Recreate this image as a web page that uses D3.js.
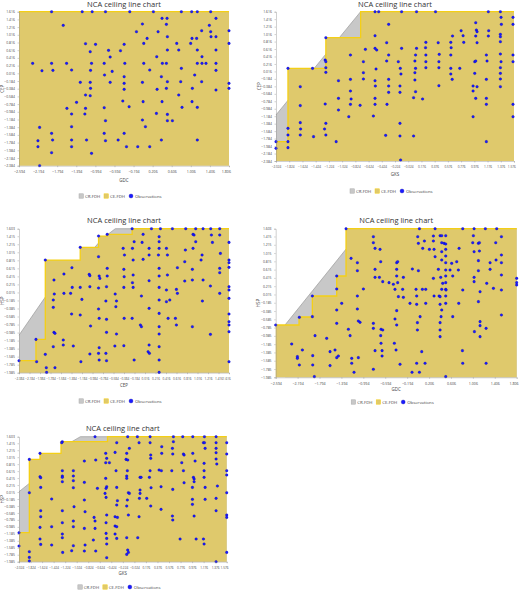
<!DOCTYPE html>
<html><head><meta charset="utf-8">
<script src="https://cdn.jsdelivr.net/npm/d3@7"></script>
<style>body{margin:0;background:#fff}svg{display:block}</style>
</head><body>
<svg id="chart" width="520" height="590"></svg>
<script>
// ---- data ----
const gdcTicks = [-2.594,-2.194,-1.794,-1.394,-0.994,-0.594,-0.194,0.206,0.606,1.006,1.406,1.806];
const gksTicks = [-2.024,-1.824,-1.624,-1.424,-1.224,-1.024,-0.824,-0.624,-0.424,-0.224,-0.024,0.176,0.376,0.576,0.776,0.976,1.176,1.376,1.576];
const cepTicks = [-2.384,-2.184,-1.984,-1.784,-1.584,-1.384,-1.184,-0.984,-0.784,-0.584,-0.384,-0.184,0.016,0.216,0.416,0.616,0.816,1.016,1.216,1.416,1.616];
const hspTicks = [1.603,1.415,1.215,1.015,0.815,0.615,0.415,0.215,0.015,-0.185,-0.385,-0.585,-0.785,-0.985,-1.185,-1.385,-1.585,-1.785,-1.985];

const ceFdh1 = [[-2.594,1.616],[1.806,1.616]];
const ceFdh2 = [[-2.024,-1.866],[-1.843,-1.866],[-1.843,0.098],[-1.27,0.098],[-1.27,0.92],[-0.744,0.92],[-0.744,1.616],[1.576,1.616]];
const crFdh2 = [[-2.024,-1.15],[-0.744,1.616],[1.576,1.616]];
const ceFdh3 = [[-2.384,-1.686],[-2.061,-1.686],[-2.061,-1.155],[-1.883,-1.155],[-1.883,0.822],[-1.218,0.822],[-1.218,1.138],[-0.869,1.138],[-0.869,1.42],[-0.704,1.42],[-0.704,1.462],[-0.229,1.462],[-0.229,1.603],[1.616,1.603]];
const crFdh3 = [[-2.384,-1.05],[-1.883,-0.1],[-1.5,0.3],[-0.8,1.35],[-0.55,1.603],[1.616,1.603]];
const ceFdh4 = [[-2.594,-0.722],[-2.168,-0.722],[-2.168,-0.529],[-1.925,-0.529],[-1.925,-0.022],[-1.48,-0.022],[-1.48,0.461],[-1.31,0.461],[-1.31,1.603],[1.806,1.603]];
const crFdh4 = [[-2.424,-0.722],[-1.01,1.603],[1.806,1.603]];
const ceFdh5 = [[-2.024,-1.153],[-1.845,-1.153],[-1.845,0.952],[-1.66,0.952],[-1.66,1.125],[-1.296,1.125],[-1.296,1.459],[-0.49,1.459],[-0.49,1.603],[1.576,1.603]];
const crFdh5 = [[-2.024,0.024],[-1.845,0.263],[-1.5,0.7],[-1.11,1.459],[-0.96,1.603],[1.576,1.603]];

const obs1 = [[-2.308,0.274],[-2.113,0.083],[-1.911,1.616],[-1.911,0.274],[-1.883,0.092],[-1.667,1.261],[-1.597,0.274],[-1.492,0.1],[-1.31,-0.219],[-1.388,-0.739],[-1.59,-0.895],[-1.492,-1.042],[-1.492,-1.371],[-1.492,-1.717],[-1.492,-1.89],[-1.911,-1.544],[-1.89,-1.717],[-1.911,-2.046],[-2.162,-1.389],[-2.197,-1.735],[-2.197,-1.89],[-2.162,-2.384],[-1.2,0.785],[-1.102,0.577],[-0.99,0.768],[-1.074,0.274],[-1.095,0.092],[-1.102,-0.219],[-1.095,-0.375],[-1.2,-0.548],[-1.102,-0.566],[-1.2,-0.895],[-1.214,-1.042],[-1.179,-1.717],[-1.074,-2.063],[-1.27,1.616],[-1.061,1.616],[-0.782,1.616],[-0.718,0.612],[-0.809,0.274],[-0.684,0.439],[-0.802,-0.029],[-0.684,-0.219],[-0.809,-0.877],[-0.782,-1.215],[-0.809,-1.544],[-0.782,-1.735],[-0.642,0.066],[-0.517,-1.717],[-0.468,0.603],[-0.391,0.768],[-0.377,0.274],[-0.391,-0.072],[-0.391,-0.245],[-0.391,-0.401],[-0.419,-0.704],[-0.391,-1.544],[-0.342,-1.89],[-0.287,-0.852],[-0.273,1.616],[-0.133,1.096],[-0.008,1.296],[0.02,0.793],[0.02,0.274],[-0.008,-0.219],[0.006,-0.721],[-0.008,-1.198],[0.055,-1.371],[-0.106,-1.89],[0.145,-1.89],[0.09,0.923],[0.145,0.1],[0.222,1.616],[0.292,0.447],[0.32,1.096],[0.403,1.443],[0.41,0.274],[0.389,-0.072],[0.299,-0.401],[0.285,-1.025],[0.403,-0.721],[0.494,1.287],[0.508,1.443],[0.515,0.967],[0.515,0.62],[0.494,0.274],[0.515,-0.202],[0.494,-0.375],[0.515,-1.051],[0.515,-1.215],[0.389,-1.717],[0.62,-1.215],[0.711,0.793],[0.753,0.62],[0.808,0.144],[0.794,-0.202],[0.753,-0.548],[0.822,-0.869],[0.808,1.616],[1.024,1.616],[1.031,0.923],[1.003,0.793],[1.087,-0.029],[1.038,-0.375],[1.031,-0.721],[1.142,1.616],[1.128,0.923],[1.142,0.62],[1.142,0.274],[1.142,-0.869],[1.142,-1.717],[1.233,1.123],[1.24,0.447],[1.24,0.274],[1.233,-0.202],[1.324,0.274],[1.394,1.261],[1.422,1.096],[1.429,0.967],[1.533,1.443],[1.533,0.967],[1.533,0.62],[1.533,0.274],[1.533,0.092],[1.533,-0.419],[1.806,1.123],[1.806,0.793],[1.806,-0.245],[1.806,-0.375],[1.422,1.616]];

const obs2 = [[-2.024,-1.866],[-2.024,-2.045],[-1.843,0.098],[-1.843,-1.509],[-1.843,-1.688],[-1.843,-1.866],[-1.843,-2.027],[-1.657,-0.393],[-1.657,-0.9],[-1.657,-1.357],[-1.652,-1.527],[-1.657,-1.688],[-1.456,-1.732],[-1.471,0.098],[-1.27,0.92],[-1.28,0.321],[-1.27,0.277],[-1.27,0.116],[-1.27,-0.009],[-1.28,-0.857],[-1.27,-1.375],[-1.29,-1.527],[-1.27,-1.688],[-1.114,-1.866],[-1.079,-0.232],[-1.079,-0.705],[-1.079,-1.018],[-0.923,-1.197],[-0.898,0.455],[-0.898,-0.197],[-0.898,-0.509],[-0.888,-0.723],[-0.898,-0.866],[-0.752,-0.893],[-0.702,0.277],[-0.702,-0.018],[-0.702,-0.188],[-0.672,0.607],[-0.526,1.616],[-0.526,0.973],[-0.526,0.634],[-0.501,0.589],[-0.511,0.08],[-0.526,-0.232],[-0.521,-0.375],[-0.526,-0.705],[-0.526,-0.866],[-0.551,-1.179],[-0.471,1.616],[-0.35,0.786],[-0.32,1.277],[-0.35,0.295],[-0.32,0.455],[-0.32,-0.197],[-0.32,-0.375],[-0.32,-0.545],[-0.345,-0.866],[-0.365,-1.697],[-0.174,0.277],[-0.144,0.098],[-0.134,-0.054],[-0.149,-0.375],[-0.149,-0.545],[-0.149,-1.375],[-0.149,-1.714],[-0.124,0.634],[-0.124,1.616],[-0.139,-2.357],[0.077,0.295],[0.087,0.455],[0.087,0.098],[0.077,-0.018],[0.077,-0.214],[0.087,-0.527],[0.057,-0.688],[0.057,-1.714],[0.102,0.634],[0.102,1.616],[0.193,-0.723],[0.243,0.795],[0.243,0.455],[0.243,0.277],[0.243,0.116],[0.238,0.652],[0.389,1.616],[0.429,0.786],[0.445,0.473],[0.44,0.277],[0.44,0.116],[0.44,-0.366],[0.62,0.795],[0.625,0.652],[0.62,0.455],[0.62,0.098],[0.62,-0.054],[0.641,-0.197],[0.646,0.964],[0.756,0.098],[0.776,1.107],[0.806,0.973],[0.816,0.795],[0.982,0.277],[0.982,-0.036],[0.957,-0.375],[0.957,-0.509],[0.997,-0.705],[0.957,-1.197],[0.997,1.321],[1.007,1.125],[1.017,1.08],[0.997,0.964],[1.017,0.786],[0.997,0.295],[1.017,-0.393],[1.158,0.455],[1.168,0.295],[1.158,-0.197],[1.158,-0.705],[1.158,-0.866],[1.158,-1.866],[1.193,1.107],[1.188,0.964],[1.188,1.616],[1.37,1.616],[1.38,1.464],[1.385,1.277],[1.37,1.009],[1.37,0.946],[1.37,0.812],[1.37,0.482],[1.38,0.277],[1.37,0.116],[1.37,-0.036],[1.37,-0.188],[1.37,-0.393],[1.561,1.464],[1.561,1.277],[1.561,0.455],[1.561,0.277],[1.561,-0.866],[1.561,-1.197]];

const obs3 = [[-2.384,-1.686],[-2.061,-1.155],[-2.048,-1.711],[-1.883,0.822],[-1.883,-1.528],[-1.858,-1.977],[-1.864,-1.86],[-1.718,0.324],[-1.712,-0.025],[-1.731,-0.174],[-1.731,-0.357],[-1.718,-0.98],[-1.699,-1.005],[-1.731,-1.337],[-1.699,-1.86],[-1.528,0.473],[-1.528,-0.008],[-1.541,-1.171],[-1.541,-1.296],[-1.37,0.141],[-1.376,0.631],[-1.401,-0.008],[-1.382,-0.523],[-1.35,-1.32],[-1.218,1.138],[-1.218,0.141],[-1.218,-0.548],[-1.205,-1.711],[-1.046,0.465],[-1.034,0.432],[-1.034,0.158],[-1.186,-0.158],[-1.021,-0.822],[-1.034,-1.52],[-0.869,1.42],[-0.869,0.905],[-0.857,0.424],[-0.844,0.365],[-0.869,0.125],[-0.869,-0.399],[-0.857,-0.631],[-0.857,-1.362],[-0.869,-1.503],[-0.857,-1.669],[-0.704,1.462],[-0.704,0.615],[-0.704,0.424],[-0.717,0.158],[-0.729,-0.199],[-0.717,-0.656],[-0.717,-0.98],[-0.729,-1.503],[-0.717,-1.686],[-0.552,-0.025],[-0.527,-0.199],[-0.539,-0.34],[-0.527,-1.022],[-0.558,-1.32],[-0.4,1.113],[-0.375,0.947],[-0.387,0.59],[-0.381,0.407],[-0.387,0.141],[-0.381,-0.631],[-0.387,-1.312],[-0.229,1.603],[-0.223,1.113],[-0.191,1.279],[-0.21,0.822],[-0.21,0.449],[-0.21,0.141],[-0.223,0.258],[-0.229,-0.631],[-0.191,-1.669],[-0.02,1.462],[-0.039,1.262],[-0.02,0.839],[-0.052,-0.075],[-0.071,-0.797],[-0.052,-0.839],[0.094,1.113],[0.094,0.947],[0.094,0.307],[0.094,-0.382],[0.094,-1.296],[0.075,-1.462],[0.1,-1.503],[0.139,1.603],[0.285,1.404],[0.285,1.279],[0.285,1.113],[0.272,0.947],[0.285,0.615],[0.285,0.424],[0.285,0.141],[0.285,-0.174],[0.285,-0.507],[0.285,-0.839],[0.285,-1.022],[0.285,-1.337],[0.285,-1.669],[0.285,-1.977],[0.31,1.603],[0.424,1.113],[0.443,0.947],[0.443,0.449],[0.424,0.075],[0.424,-0.216],[0.488,-0.174],[0.456,-0.631],[0.538,1.603],[0.633,0.631],[0.633,-0.008],[0.614,0.091],[0.595,-0.631],[0.614,-0.797],[0.773,0.781],[0.785,1.071],[0.773,0.299],[0.792,1.603],[0.931,1.462],[0.95,1.445],[0.982,1.279],[0.931,1.113],[0.918,0.59],[0.918,0.324],[0.918,-0.839],[0.982,1.603],[1.103,0.947],[1.084,0.822],[1.122,0.324],[1.109,-0.199],[1.122,1.603],[1.262,-1.03],[1.281,1.445],[1.3,1.262],[1.262,0.174],[1.439,1.445],[1.452,0.988],[1.439,0.615],[1.439,0.507],[1.439,-0.008],[1.616,1.262],[1.616,0.822],[1.616,0.756],[1.616,0.64],[1.616,0.158],[1.616,0.075],[1.616,-0.133],[1.616,-0.523],[1.616,-0.714],[1.616,-0.797],[1.616,-0.963],[1.616,-1.711],[1.439,1.603],[1.268,1.603]];

const obs4 = [[-2.594,-0.722],[-2.302,-1.181],[-2.198,-1.486],[-2.198,-1.527],[-2.162,-1.687],[-2.162,-0.537],[-2.107,-1.325],[-1.925,-0.022],[-1.925,-0.521],[-1.918,-1.462],[-1.918,-1.687],[-1.888,-1.969],[-1.876,-0.979],[-1.663,-1.044],[-1.602,-1.366],[-1.602,-1.703],[-1.48,0.461],[-1.48,0.147],[-1.48,-0.36],[-1.48,-0.682],[-1.48,-1.51],[-1.45,-1.47],[-1.511,-1.325],[-1.389,-0.199],[-1.31,1.603],[-1.218,0.887],[-1.267,-0.826],[-1.236,-0.979],[-1.206,-1.527],[-1.206,-1.647],[-1.164,-1.864],[-1.103,0.782],[-1.103,0.589],[-1.103,-0.022],[-1.103,-0.336],[-1.085,-0.625],[-1.054,-0.658],[-1.085,-1.51],[-0.993,0.147],[-0.811,1.41],[-0.811,1.265],[-0.78,1.128],[-0.78,0.622],[-0.78,0.428],[-0.811,-0.682],[-0.811,-0.803],[-0.78,-1.341],[-0.811,-1.792],[-0.689,1.104],[-0.701,0.428],[-0.677,0.806],[-0.64,0.324],[-0.671,-0.826],[-0.64,-0.842],[-0.677,-0.979],[-0.671,-1.164],[-0.652,-1.341],[-0.652,-1.47],[-0.525,0.3],[-0.446,0.26],[-0.416,0.139],[-0.385,0.782],[-0.367,0.806],[-0.385,0.622],[-0.385,0.461],[-0.367,0.3],[-0.354,-0.038],[-0.385,-0.376],[-0.416,-0.577],[-0.385,-0.722],[-0.428,-1.164],[-0.397,-1.325],[-0.324,-1.671],[-0.263,0.428],[-0.276,0.139],[-0.263,-0.054],[-0.142,-0.199],[-0.099,0.63],[-0.105,-1.864],[-0.032,0.139],[-0.02,-0.022],[-0.02,-0.223],[-0.007,-0.666],[-0.007,-0.842],[-0.02,-1.647],[0.011,1.249],[-0.001,1.41],[0.03,1.603],[0.011,0.589],[0.03,-1.864],[0.084,0.139],[0.09,1.128],[0.042,-0.521],[0.072,-1.366],[0.121,1.305],[0.133,-1.647],[0.145,0.139],[0.145,-0.199],[0.212,1.104],[0.285,1.305],[0.285,1.426],[0.285,0.404],[0.297,1.104],[0.297,-0.022],[0.316,0.927],[0.316,1.603],[0.376,0.622],[0.389,-0.022],[0.407,-0.223],[0.407,-0.038],[0.407,1.434],[0.437,1.434],[0.437,1.265],[0.437,1.048],[0.437,0.847],[0.419,0.428],[0.437,0.139],[0.425,-0.521],[0.407,-0.666],[0.407,-0.842],[0.407,-1.004],[0.437,-0.36],[0.48,1.249],[0.51,1.434],[0.51,1.233],[0.51,1.104],[0.51,0.943],[0.51,0.782],[0.51,0.605],[0.51,0.461],[0.51,0.3],[0.51,0.139],[0.51,-0.022],[0.51,-0.199],[0.51,-1.969],[0.455,0.284],[0.516,0.123],[0.619,0.766],[0.638,-0.521],[0.589,0.605],[0.638,0.461],[0.748,-0.199],[0.741,0.605],[0.711,0.806],[0.754,1.128],[0.821,1.603],[0.821,0.123],[0.815,-1.341],[0.821,-1.647],[1.015,1.434],[1.028,1.603],[1.003,1.265],[1.028,1.048],[1.028,0.428],[1.028,0.324],[1.034,-0.883],[1.107,1.249],[1.125,1.265],[1.125,1.064],[1.107,0.831],[1.107,0.589],[1.137,0.082],[1.107,-0.159],[1.137,-0.641],[1.137,-0.738],[1.137,-1.004],[1.234,1.603],[1.247,-0.803],[1.247,-1.647],[1.259,0.284],[1.32,0.782],[1.32,0.622],[1.381,0.163],[1.423,1.265],[1.429,0.847],[1.441,1.603],[1.527,1.41],[1.527,0.968],[1.527,0.782],[1.527,0.485],[1.527,0.123],[1.527,-0.481],[1.806,0.404],[1.806,0.3],[1.806,0.243]];

const obs5 = [[-2.024,-1.153],[-2.024,-1.536],[-1.845,0.952],[-1.845,-0.005],[-1.845,-1.698],[-1.845,-1.861],[-1.845,-1.966],[-1.66,1.125],[-1.66,0.455],[-1.648,0.426],[-1.648,0.148],[-1.648,-0.521],[-1.648,-0.694],[-1.66,-1.0],[-1.66,-1.335],[-1.648,-1.488],[-1.458,-0.186],[-1.458,-0.981],[-1.458,-1.507],[-1.273,1.459],[-1.284,1.431],[-1.273,0.627],[-1.273,0.474],[-1.273,0.436],[-1.273,0.311],[-1.273,-0.521],[-1.273,-0.866],[-1.273,-1.191],[-1.273,-1.296],[-1.267,-1.718],[-1.111,-1.67],[-1.082,0.627],[-1.082,0.474],[-1.082,0.34],[-1.082,0.139],[-1.07,-0.407],[-1.082,-0.818],[-1.082,-0.981],[-1.082,-1.526],[-0.891,0.904],[-0.891,0.292],[-0.891,-0.215],[-0.879,-0.55],[-0.891,-1.029],[-0.879,-1.507],[-0.891,-1.679],[-0.735,-1.364],[-0.723,-0.713],[-0.706,-0.818],[-0.706,-1.029],[-0.694,-1.679],[-0.694,0.933],[-0.665,0.12],[-0.706,1.603],[-0.521,1.125],[-0.504,0.981],[-0.521,0.857],[-0.521,0.407],[-0.504,0.168],[-0.515,0.12],[-0.533,-0.024],[-0.515,-0.139],[-0.504,-0.646],[-0.515,-0.866],[-0.515,-1.172],[-0.504,-1.316],[-0.504,-1.478],[-0.504,-1.87],[-0.457,0.857],[-0.359,1.153],[-0.342,0.627],[-0.33,1.431],[-0.33,0.148],[-0.318,-0.234],[-0.33,-0.359],[-0.359,-0.694],[-0.318,-0.713],[-0.359,-0.962],[-0.33,-0.981],[-0.359,-1.191],[-0.33,-1.316],[-0.14,1.603],[-0.157,1.125],[-0.169,0.952],[-0.14,0.933],[-0.146,0.627],[-0.157,0.474],[-0.157,0.407],[-0.128,-0.005],[-0.146,-0.215],[-0.111,-0.024],[-0.157,-0.388],[-0.128,-0.646],[-0.157,-1.296],[-0.14,-1.651],[-0.157,-1.775],[-0.128,-1.718],[-0.111,1.268],[0.028,1.603],[0.057,1.431],[0.074,0.436],[0.092,0.436],[0.074,-0.024],[0.063,-0.167],[0.057,-0.694],[0.034,-1.296],[0.074,0.072],[0.19,-0.167],[0.248,1.431],[0.259,1.077],[0.259,0.981],[0.248,0.627],[0.265,0.139],[0.259,-0.388],[0.236,0.436],[0.248,1.603],[0.404,0.646],[0.45,1.316],[0.45,1.125],[0.444,0.627],[0.438,0.168],[0.438,-0.483],[0.652,1.603],[0.652,1.459],[0.635,1.268],[0.641,1.105],[0.624,0.627],[0.641,0.091],[0.635,-0.675],[0.641,-0.789],[0.768,-1.335],[0.814,1.603],[0.826,1.105],[0.826,0.627],[0.837,0.282],[0.797,0.857],[0.837,1.077],[0.988,1.603],[0.988,1.125],[0.999,0.436],[1.011,0.388],[1.011,0.311],[0.982,0.148],[0.982,-0.196],[0.982,-0.339],[1.011,-0.675],[1.046,-1.335],[1.028,0.904],[1.173,1.431],[1.19,1.431],[1.202,1.268],[1.184,0.838],[1.184,0.627],[1.184,0.436],[1.202,0.148],[1.202,-0.196],[1.173,-1.335],[1.184,-1.478],[1.19,1.603],[1.392,1.603],[1.392,1.431],[1.392,1.268],[1.392,1.144],[1.392,0.962],[1.404,0.818],[1.415,0.187],[1.392,-0.167],[1.392,-0.521],[1.392,-1.986],[1.577,1.431],[1.577,1.105],[1.577,0.627],[1.577,0.503],[1.577,-0.005],[1.577,-0.646],[1.577,-0.713],[1.577,-1.718]];

// ---- layout per panel ----
const panels = [
  {box:[19,229,11.7,165.7], xd:[-2.594,1.806], yd:[-2.384,1.616], xt:gdcTicks, yt:cepTicks.slice().reverse(), xl:'GDC', yl:'CEP', ce:ceFdh1, cr:null, obs:obs1, titleY:7, xlY:182, legY:196},
  {box:[276,514,11.7,161], xd:[-2.024,1.576], yd:[-2.384,1.616], xt:gksTicks, yt:cepTicks.slice().reverse(), xl:'GKS', yl:'CEP', ce:ceFdh2, cr:crFdh2, obs:obs2, titleY:7, xlY:176, legY:191},
  {box:[19,229,228.7,372.7], xd:[-2.384,1.616], yd:[-1.985,1.603], xt:cepTicks, yt:hspTicks, xl:'CEP', yl:'HSP', ce:ceFdh3, cr:crFdh3, obs:obs3, titleY:223, xlY:387, legY:401},
  {box:[275.7,516.7,228.7,377.3], xd:[-2.594,1.806], yd:[-1.985,1.603], xt:gdcTicks, yt:hspTicks, xl:'GDC', yl:'HSP', ce:ceFdh4, cr:crFdh4, obs:obs4, titleY:223, xlY:391, legY:402},
  {box:[19,226.7,436.7,561.7], xd:[-2.024,1.576], yd:[-1.985,1.603], xt:gksTicks, yt:hspTicks, xl:'GKS', yl:'HSP', ce:ceFdh5, cr:crFdh5, obs:obs5, titleY:431, xlY:575, legY:587}
];

const svg = d3.select('#chart');
const FONT = 'Open Sans, Noto Sans, sans-serif';
const FILL = '#dfc96c', CEL = '#f4cf16', GRAY = '#c8c8c8';

panels.forEach((p, i) => {
  const [x0, x1, y0, y1] = p.box;
  const x = d3.scaleLinear().domain(p.xd).range([x0, x1]);
  const y = d3.scaleLinear().domain(p.yd).range([y1, y0]);
  const g = svg.append('g');
  const clipId = 'clip' + i;
  g.append('clipPath').attr('id', clipId).append('rect')
    .attr('x', x0 - 2).attr('y', y0 - 2).attr('width', x1 - x0 + 4).attr('height', y1 - y0 + 4);
  const plot = g.append('g').attr('clip-path', `url(#${clipId})`);

  const area = d3.area().x(d => x(d[0])).y0(y1).y1(d => y(d[1]));
  const line = d3.line().x(d => x(d[0])).y(d => y(d[1]));

  if (p.cr) {
    plot.append('path').attr('d', area(p.cr)).attr('fill', GRAY);
    plot.append('path').attr('d', line(p.cr)).attr('fill', 'none').attr('stroke', '#9a9a9a').attr('stroke-width', 0.7);
  }
  plot.append('path').attr('d', area(p.ce)).attr('fill', FILL);
  plot.append('path').attr('d', line(p.ce)).attr('fill', 'none').attr('stroke', CEL).attr('stroke-width', 1.3);

  plot.selectAll('circle').data(p.obs).enter().append('circle')
    .attr('cx', d => x(d[0])).attr('cy', d => y(d[1])).attr('r', 1.3)
    .attr('fill', '#1a1aff').attr('stroke', '#0000a0').attr('stroke-width', 0.3);

  // axes
  const dense = p.xt.length > 14;
  const xa = g.append('g').attr('transform', `translate(0,${y1})`)
    .call(d3.axisBottom(x).tickValues(p.xt).tickFormat(d3.format('.3f')).tickSize(1.5));
  const ya = g.append('g').attr('transform', `translate(${x0},0)`)
    .call(d3.axisLeft(y).tickValues(p.yt).tickFormat(d3.format('.3f')).tickSize(1.5));
  [xa, ya].forEach(a => {
    a.selectAll('text').attr('font-family', FONT).attr('fill', '#444');
    a.selectAll('line').attr('stroke', '#888').attr('stroke-width', 0.4);
    a.select('.domain').attr('stroke', '#888').attr('stroke-width', 0.4);
  });
  xa.selectAll('text').attr('font-size', dense ? 3.1 : 3.6).attr('dy', '0.9em');
  xa.selectAll('.tick:last-of-type text').attr('text-anchor', 'end').attr('dx', '0.4em');
  ya.selectAll('text').attr('font-size', 3.4).attr('dx', '0.1em');

  const cx = (x0 + x1) / 2;
  g.append('text').attr('x', cx).attr('y', p.titleY).attr('text-anchor', 'middle')
    .attr('font-family', FONT).attr('font-size', 7.5).attr('fill', '#333').text('NCA ceiling line chart');
  g.append('text').attr('x', cx).attr('y', p.xlY).attr('text-anchor', 'middle')
    .attr('font-family', FONT).attr('font-size', 4.5).attr('fill', '#444').text(p.xl);
  g.append('text').attr('transform', `translate(${x0 - 15.5},${(y0 + y1) / 2}) rotate(-90)`)
    .attr('text-anchor', 'middle').attr('font-family', FONT).attr('font-size', 4.5).attr('fill', '#444').text(p.yl);

  // legend
  const items = [
    {label: 'CR-FDH', color: GRAY, stroke: '#aaa', w: 25},
    {label: 'CE-FDH', color: FILL, stroke: CEL, w: 25},
    {label: 'Observations', color: '#1a1aff', stroke: '#0000a0', w: 40, dot: true}
  ];
  let lx = cx - 45;
  items.forEach(it => {
    if (it.dot) {
      g.append('circle').attr('cx', lx + 2).attr('cy', p.legY).attr('r', 2).attr('fill', it.color).attr('stroke', it.stroke).attr('stroke-width', 0.3);
    } else {
      g.append('rect').attr('x', lx).attr('y', p.legY - 2.2).attr('width', 4.4).attr('height', 4.4)
        .attr('fill', it.color).attr('stroke', it.stroke).attr('stroke-width', 0.5);
    }
    g.append('text').attr('x', lx + 6).attr('y', p.legY + 1.5).attr('font-family', FONT)
      .attr('font-size', 4.3).attr('fill', '#444').text(it.label);
    lx += it.w;
  });
});
</script>
</body></html>
